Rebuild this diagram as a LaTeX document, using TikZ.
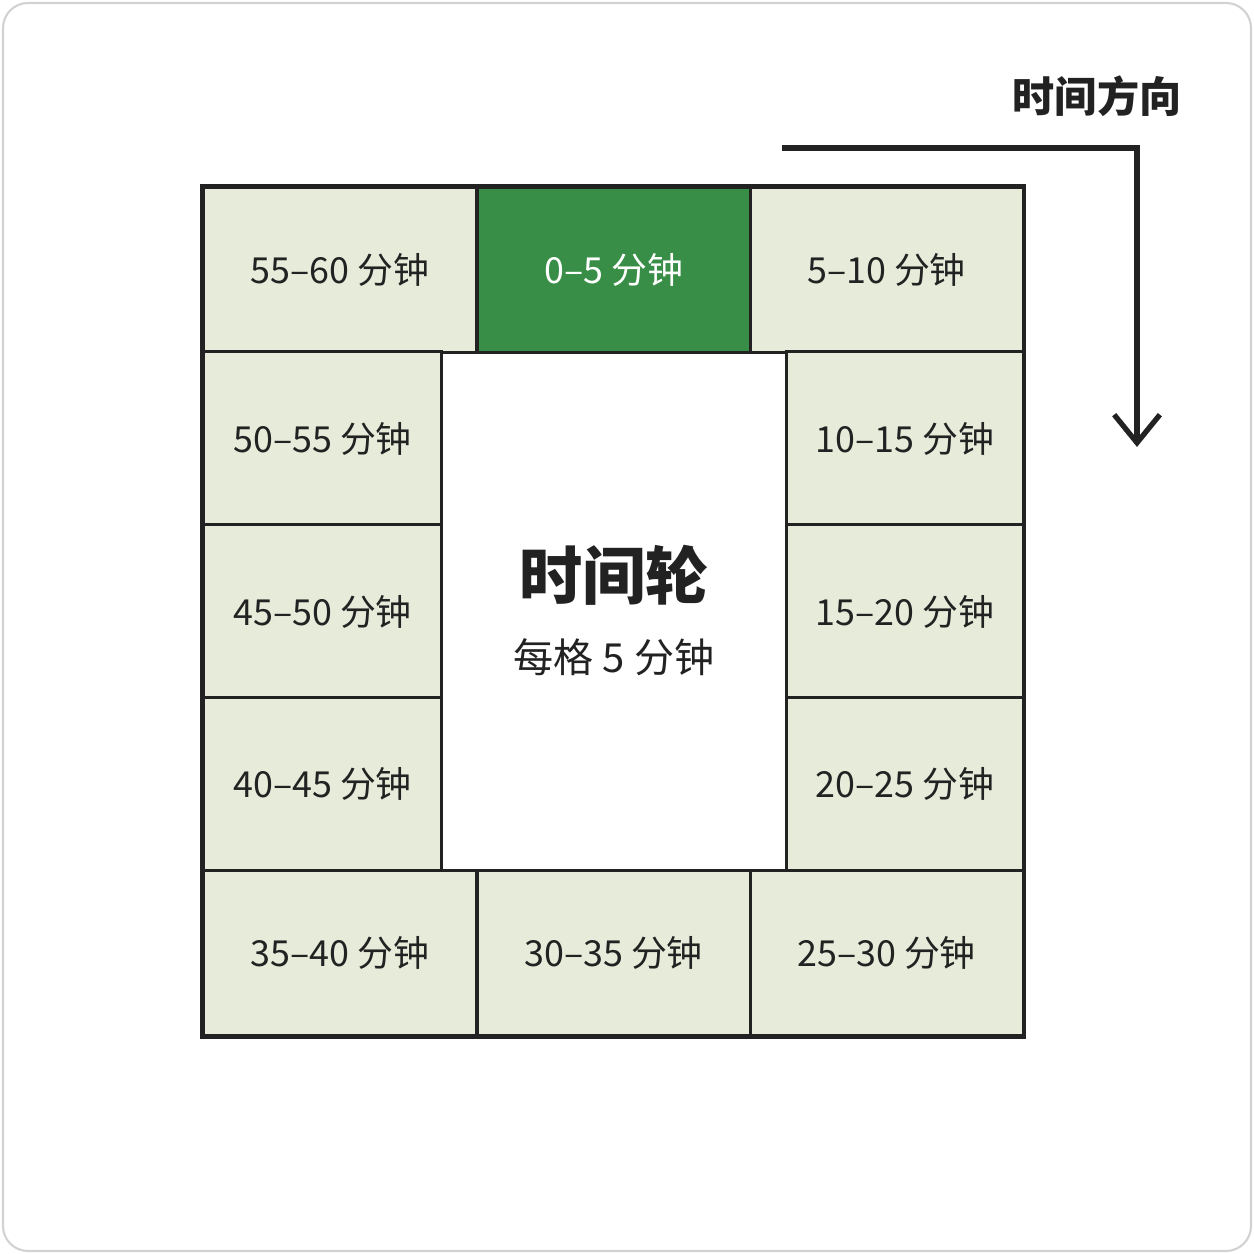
\documentclass[tikz,border=0pt]{standalone}
\usepackage{fontspec}
\setmainfont{Noto Sans CJK SC}
\usetikzlibrary{arrows.meta}
\definecolor{cellbg}{HTML}{E6EBDA}
\definecolor{slotgreen}{HTML}{388E46}
\definecolor{ink}{HTML}{222222}
\begin{document}
\begin{tikzpicture}[>=latex,thick,
	cell/.style={draw=ink,line width=0.85pt,fill=cellbg,text=ink,font=\fontsize{10.2}{12}\selectfont,inner sep=0pt},
	now/.style={cell,fill=slotgreen,text=white}]
\def\wa{2.73}
\def\wb{2.37}
\def\ha{1.65}
\def\hb{1.73}
\useasboundingbox (0,0) rectangle (12.54,12.54);
\draw[gray!35,line width=0.6pt,rounded corners=0.25cm] (0.03,0.03) rectangle (12.51,12.51);
% ring of slots
\node[cell,minimum width=\wa cm,minimum height=\ha cm] (s55) at (3.40,9.84) {55–60 分钟};
\node[now,minimum width=\wa cm,minimum height=\ha cm] (s0) at (6.135,9.84) {0–5 分钟};
\node[cell,minimum width=\wa cm,minimum height=\ha cm] (s5) at (8.865,9.84) {5–10 分钟};
\node[cell,minimum width=\wb cm,minimum height=\hb cm] (s10) at (9.05,8.155) {10–15 分钟};
\node[cell,minimum width=\wb cm,minimum height=\hb cm] (s15) at (9.05,6.425) {15–20 分钟};
\node[cell,minimum width=\wb cm,minimum height=\hb cm] (s20) at (9.05,4.70) {20–25 分钟};
\node[cell,minimum width=\wa cm,minimum height=\ha cm] (s25) at (8.865,3.01) {25–30 分钟};
\node[cell,minimum width=\wa cm,minimum height=\ha cm] (s30) at (6.135,3.01) {30–35 分钟};
\node[cell,minimum width=\wa cm,minimum height=\ha cm] (s35) at (3.40,3.01) {35–40 分钟};
\node[cell,minimum width=\wb cm,minimum height=\hb cm] (s40) at (3.225,4.70) {40–45 分钟};
\node[cell,minimum width=\wb cm,minimum height=\hb cm] (s45) at (3.225,6.425) {45–50 分钟};
\node[cell,minimum width=\wb cm,minimum height=\hb cm] (s50) at (3.225,8.155) {50–55 分钟};
\draw[ink,line width=1.1pt] (s55.north west) rectangle (s25.south east);
% centre
\node[text=ink,font=\fontsize{18}{20}\selectfont\bfseries] (wheel) at (6.14,6.79) {时间轮};
\node[text=ink,font=\fontsize{11.4}{13}\selectfont] (tick) at (6.14,5.97) {每格\ 5\ 分钟};
% direction
\node[text=ink,font=\fontsize{12}{14}\selectfont\bfseries] (dir) at (10.97,11.58) {时间方向};
\coordinate (d0) at (7.82,11.06);
\coordinate (d1) at (11.37,11.06);
\coordinate (d2) at (11.37,8.07);
\draw[ink,line width=1.5pt,-{Straight Barb[length=8pt,width=13pt]}] (d0) -- (d1) -- (d2);
\end{tikzpicture}
\end{document}
